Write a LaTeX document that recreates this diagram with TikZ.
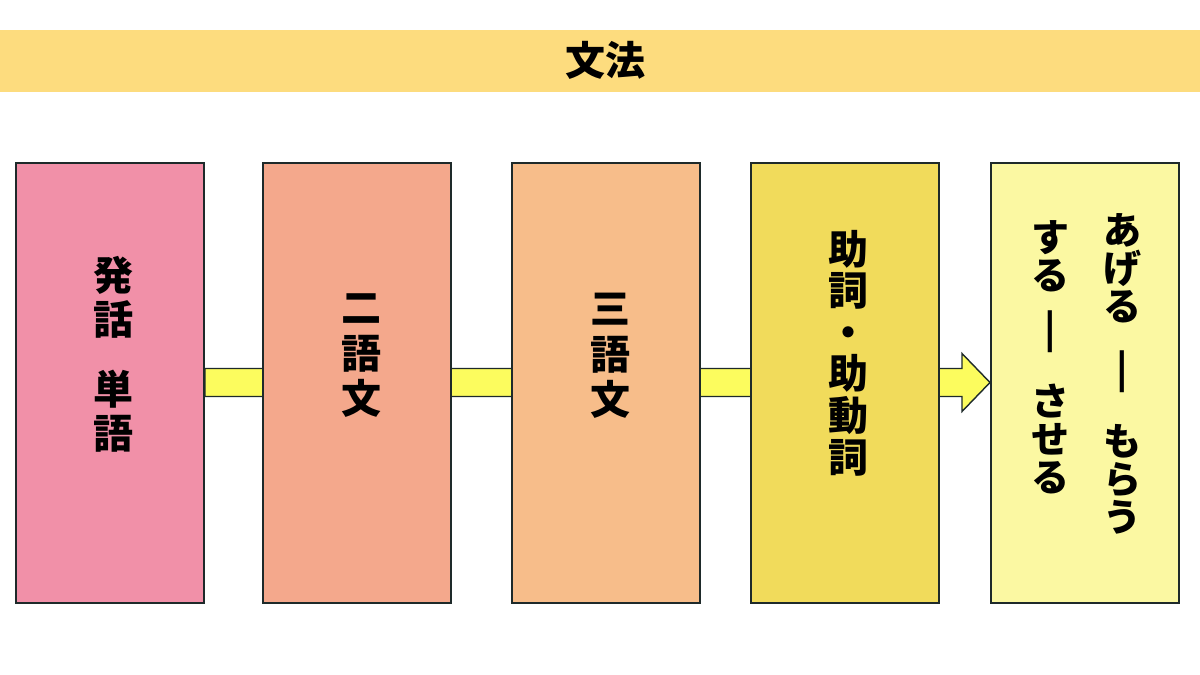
\documentclass[tikz,border=0pt]{standalone}
\usepackage{fontspec}
\newfontfamily\cjk{Noto Sans CJK JP}
\usetikzlibrary{calc}
\pgfdeclarelayer{bottom}
\pgfdeclarelayer{background}
\pgfsetlayers{bottom,background,main}
\definecolor{bannerfill}{HTML}{FDDC7E}
\definecolor{cone}{HTML}{F190A8}
\definecolor{ctwo}{HTML}{F4A88C}
\definecolor{cthree}{HTML}{F7BD8A}
\definecolor{cfour}{HTML}{F1DB5B}
\definecolor{cfive}{HTML}{FBF8A2}
\definecolor{arrowfill}{HTML}{FCFC5E}
\definecolor{boxline}{HTML}{1E2A2A}
\newcommand{\vbar}{\scalebox{2.2}[1.3]{︱}}
\begin{document}
\begin{tikzpicture}[x=1pt,y=-1pt,
  stagebox/.style={draw=boxline, line width=2pt, minimum width=188pt, minimum height=440pt, inner sep=0pt},
  vtxt/.style={font=\cjk\bfseries\fontsize{40}{44}\selectfont, align=center, inner sep=0pt, text=black,
    execute at begin node={\lineskiplimit=-100pt}},
  blockarrow/.style={fill=arrowfill, draw=boxline, line width=1.4pt, line join=miter}]
\useasboundingbox (0,0) rectangle (1200,675);
\begin{pgfonlayer}{bottom}
\fill[white] (0,0) rectangle (1200,675);
\end{pgfonlayer}
\node[fill=bannerfill, minimum width=1200pt, minimum height=62pt, inner sep=0pt, anchor=north west] (banner) at (0,30) {};
\node[vtxt] (title) at (605,60) {文法};

\node[stagebox, fill=cone]   (b1) at (110,382.5) {};
\node[stagebox, fill=ctwo]   (b2) at (356.5,382.5) {};
\node[stagebox, fill=cthree] (b3) at (606,382.5) {};
\node[stagebox, fill=cfour]  (b4) at (845,382.5) {};
\node[stagebox, fill=cfive]  (b5) at (1085,382.5) {};

\begin{pgfonlayer}{background}
\draw[blockarrow] ($(b1.east)+(0,-14)$) -- ($(b5.west)+(-28,-14)$) -- ($(b5.west)+(-28,-29)$)
  -- (b5.west) -- ($(b5.west)+(-28,29)$) -- ($(b5.west)+(-28,14)$) -- ($(b1.east)+(0,14)$) -- cycle;
\end{pgfonlayer}

\node[vtxt] (t1) at (113,354.5) {発\\話\\[26pt]単\\語};
\node[vtxt, font=\cjk\bfseries\fontsize{40}{45.5}\selectfont] (t2) at (361,356) {二\\語\\文};
\node[vtxt, font=\cjk\bfseries\fontsize{40}{45.5}\selectfont] (t3) at (610,356) {三\\語\\文};
\node[vtxt, font=\cjk\bfseries\fontsize{40}{41.6}\selectfont] (t4) at (848,353) {助\\詞\\・\\助\\動\\詞};
\node[vtxt, font=\cjk\bfseries\fontsize{38}{38}\selectfont] (t5a) at (1122,373.5) {あ\\げ\\る\\[32pt]\vbar\\[27pt]も\\ら\\う};
\node[vtxt, font=\cjk\bfseries\fontsize{38}{38}\selectfont] (t5b) at (1050,357.5) {す\\る\\[23pt]\vbar\\[27pt]さ\\せ\\る};
\end{tikzpicture}
\end{document}
